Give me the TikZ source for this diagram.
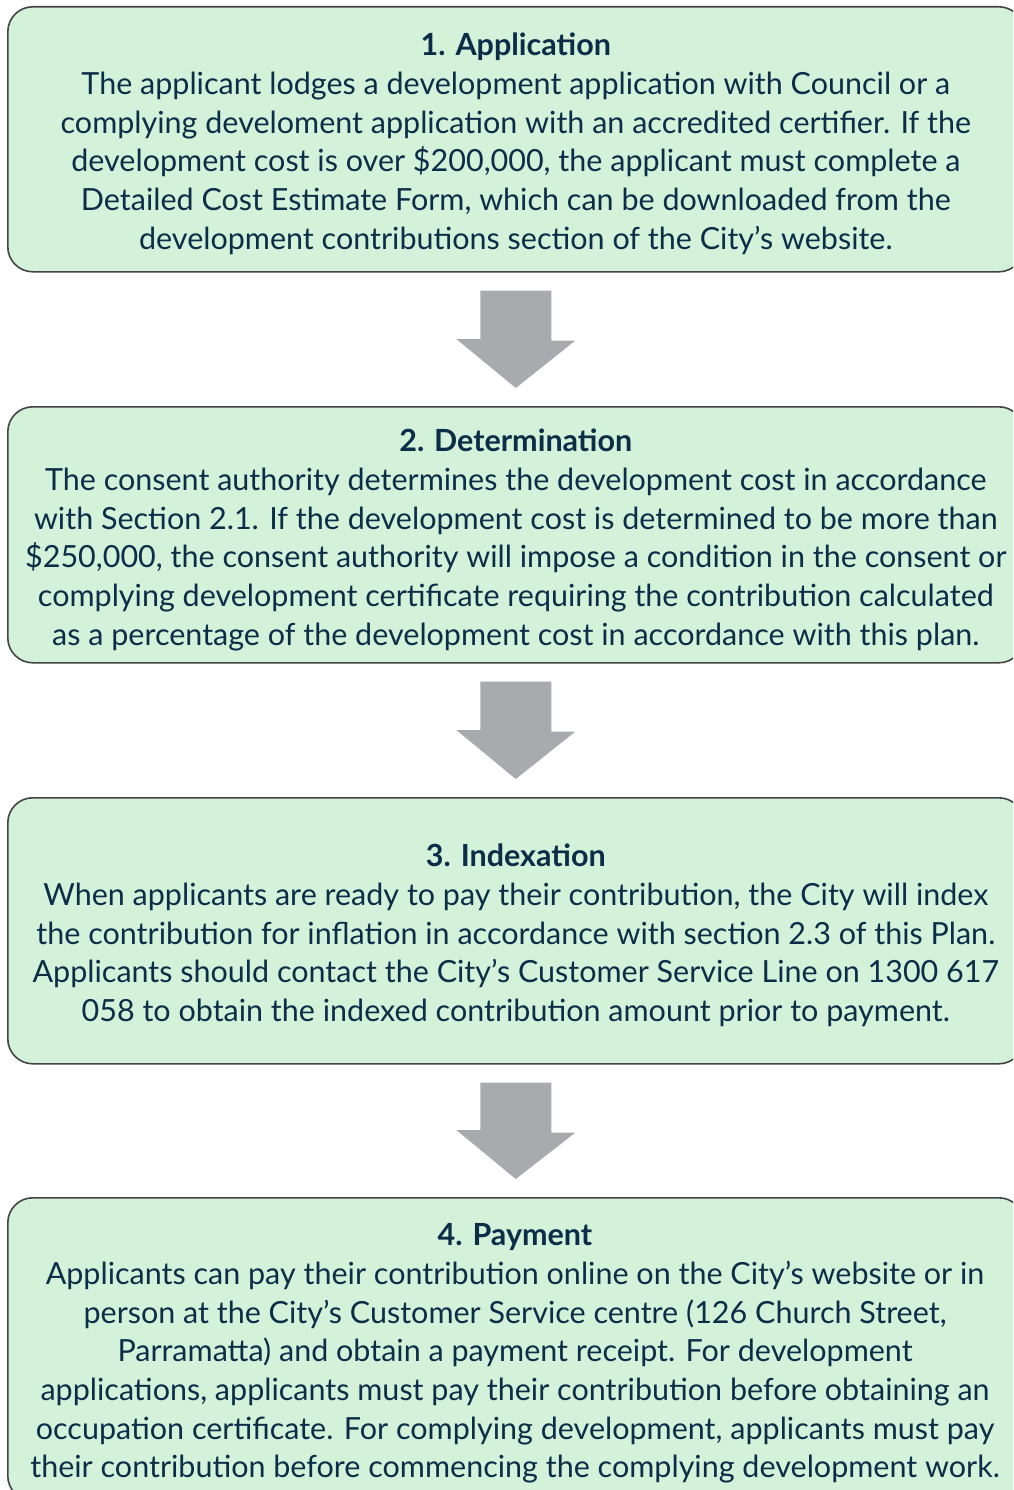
\documentclass[tikz,border=0pt]{standalone}
\usepackage{fontspec}
\setmainfont{Lato}
\usetikzlibrary{calc}
\definecolor{boxfill}{HTML}{D3F2D9}
\definecolor{boxline}{HTML}{444444}
\definecolor{txt}{HTML}{0C2D48}
\definecolor{arrowgrey}{HTML}{A9AAAE}
\tikzset{
  stepbox/.style={draw=boxline, line width=1.6pt, fill=boxfill, rounded corners=25pt, minimum width=1016pt, anchor=north west, inner sep=0pt},
  steptext/.style={text=txt, align=center, inner sep=0pt, font=\fontsize{30.5}{38.7}\selectfont},
  blockarrow/.style={fill=arrowgrey, draw=none}
}
\begin{document}
\begin{tikzpicture}[x=1pt,y=-1pt]
\clip (0,0) rectangle (1013,1490);
\fill[white] (0,0) rectangle (1013,1490);
\node[stepbox, minimum height=265pt] (b1) at (7,6) {};
\node[stepbox, minimum height=256pt] (b2) at (7,406) {};
\node[stepbox, minimum height=266pt] (b3) at (7,797) {};
\node[stepbox, minimum height=303pt] (b4) at (7,1197) {};

\node[steptext] (t1) at ($(b1.center)+(0,4.5)$) {{\bfseries 1. Application}\\
The applicant lodges a development application with Council or a\\
complying develoment application with an accredited certifier. If the\\
development cost is over \$200,000, the applicant must complete a\\
Detailed Cost Estimate Form, which can be downloaded from the\\
development contributions section of the City’s website.};

\node[steptext] (t2) at ($(b2.center)+(0,5)$) {{\bfseries 2. Determination}\\
The consent authority determines the development cost in accordance\\
with Section 2.1. If the development cost is determined to be more than\\
\$250,000, the consent authority will impose a condition in the consent or\\
complying development certificate requiring the contribution calculated\\
as a percentage of the development cost in accordance with this plan.};

\node[steptext] (t3) at ($(b3.center)+(0,4.5)$) {{\bfseries 3. Indexation}\\
When applicants are ready to pay their contribution, the City will index\\
the contribution for inflation in accordance with section 2.3 of this Plan.\\
Applicants should contact the City’s Customer Service Line on 1300 617\\
058 to obtain the indexed contribution amount prior to payment.};

\node[steptext] (t4) at (515,1353.5) {{\bfseries 4. Payment}\\
Applicants can pay their contribution online on the City’s website or in\\
person at the City’s Customer Service centre (126 Church Street,\\
Parramatta) and obtain a payment receipt. For development\\
applications, applicants must pay their contribution before obtaining an\\
occupation certificate. For complying development, applicants must pay\\
their contribution before commencing the complying development work.};

\fill[blockarrow] ($(b1.south)+(-35.5,18)$) -- ++(71,0) -- ++(0,50) -- ++(24,0) -- ($(b2.north)+(0,-18)$) -- ++(-59.5,-49) -- ++(24,0) -- cycle;
\fill[blockarrow] ($(b2.south)+(-35.5,18)$) -- ++(71,0) -- ++(0,50) -- ++(24,0) -- ($(b3.north)+(0,-18)$) -- ++(-59.5,-49) -- ++(24,0) -- cycle;
\fill[blockarrow] ($(b3.south)+(-35.5,18)$) -- ++(71,0) -- ++(0,50) -- ++(24,0) -- ($(b4.north)+(0,-18)$) -- ++(-59.5,-49) -- ++(24,0) -- cycle;
\end{tikzpicture}
\end{document}
